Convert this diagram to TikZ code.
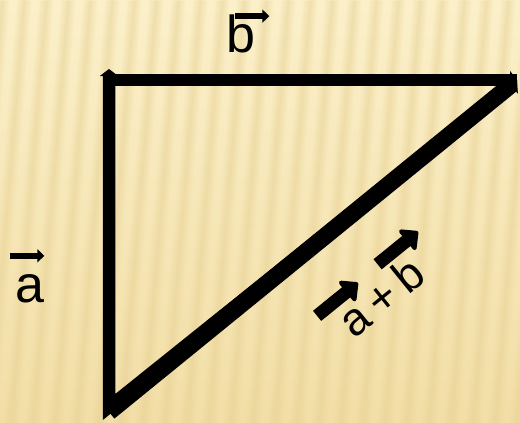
\documentclass[tikz,border=0pt]{standalone}
\usepackage{fontspec}
\setmainfont{Liberation Sans}
\usetikzlibrary{arrows.meta, calc, fadings}

\definecolor{paper}{HTML}{FBF0C9}
\definecolor{paperlow}{HTML}{F2DEA6}
\definecolor{fold}{HTML}{E6CF92}

\tikzfading[name=softband, left color=transparent!100, right color=transparent!100, middle color=transparent!50]

\begin{document}
\begin{tikzpicture}[x=1pt, y=-1pt,
  side/.style={line width=12.5pt, line join=miter},
  sidetip/.style={-{Triangle[length=7pt, width=18pt]}},
  letter/.style={inner sep=0pt, anchor=base west, font=\fontsize{52}{60}\selectfont},
  smallletter/.style={inner sep=0pt, anchor=base west, font=\fontsize{46}{54}\selectfont},
  vecmark/.style={line width=6pt, -{Triangle[length=7pt, width=13pt]}},
  bigmark/.style={line width=13pt, -{Triangle[length=16pt, width=30pt, round]}},
]
\useasboundingbox (0,0) rectangle (520,423);

% Background
\begin{scope}
  \clip (0,0) rectangle (520,423);
  \shade[top color=paper, bottom color=paperlow] (0,0) rectangle (520,423);
  \begin{scope}[transform canvas={xslant=0.083}]
    \foreach \s in {-6,16,...,570}
      \fill[fold, path fading=softband] (\s,0) rectangle ++(16,423);
  \end{scope}
\end{scope}

% Triangle
\coordinate (O) at (109,407);
\coordinate (Ob) at (109,412);
\coordinate (A) at (109,80);
\coordinate (Atip) at (109,69);
\coordinate (B) at (517,80);
\draw[side, {Triangle[length=7pt, width=18pt]}-{Triangle[length=7pt, width=18pt]}]
  (Atip) -- (O) -- (B);
\draw[side, sidetip, line cap=rect] (A) -- (B);
\draw[line width=17pt, -{Triangle[length=8pt, width=22pt]}] (Ob) -- (B);

% Vector b
\node[letter] (vb) at (226,52) {b};
\draw[vecmark] ($(vb.north west)+(9,2)$) -- ($(vb.north east)+(14,2)$);

% Vector a
\node[letter] (va) at (15,302) {a};
\draw[vecmark] ($(va.north west)+(-5,-18)$) -- ($(va.north east)+(0,-18)$);

% Sum a + b along the diagonal
\begin{scope}[shift={(354,340)}, rotate=39, transform shape]
  \node[smallletter] (sum) at (0,0) {a\hspace{9pt}+\hspace{8.5pt}b};
  \draw[bigmark] (-13.5,-42) -- (39,-42);
  \draw[bigmark] (66,-44) -- (118,-44);
\end{scope}

\end{tikzpicture}
\end{document}
